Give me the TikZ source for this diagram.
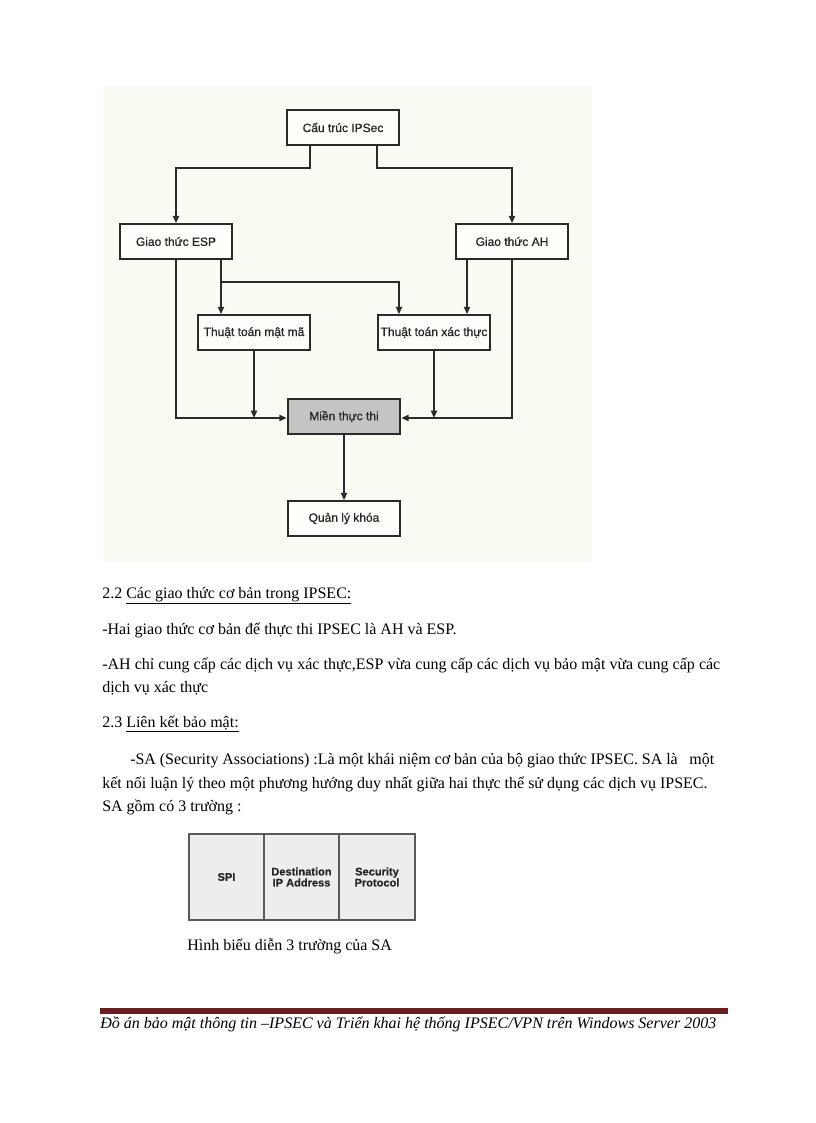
\documentclass[tikz,border=0pt]{standalone}
\usepackage{fontspec}
\setmainfont{Liberation Serif}
\newfontfamily\arialf[FakeBold=0.8]{Liberation Sans}
\newfontfamily\arialb[FakeBold=0.6]{Liberation Sans Bold}
\usetikzlibrary{arrows.meta}
\definecolor{linec}{HTML}{2B2B2B}
\definecolor{diagbg}{HTML}{FBFAF3}
\definecolor{boxbg}{HTML}{FDFDFA}
\definecolor{grayfill}{HTML}{C4C4C2}
\definecolor{footred}{HTML}{6B1E1E}
\definecolor{tablebg}{HTML}{EDEDEB}
\definecolor{tableline}{HTML}{5A5A5A}
\begin{document}
\begin{tikzpicture}[x=0.75pt,y=-0.75pt,
  box/.style={draw=linec, line width=1.5pt, rectangle, inner sep=0pt, fill=boxbg,
    minimum width=84.5pt, minimum height=26pt, text=black!85,
    font=\arialf\fontsize{9}{10}\selectfont},
  arr/.style={draw=linec, line width=1.3pt, -{Triangle[length=5.5pt,width=4.6pt]}},
  body/.style={anchor=base west, inner sep=0pt, font=\fontsize{12}{14}\selectfont},
  cell/.style={anchor=center, inner sep=0pt, align=center,
    font=\arialb\fontsize{8.3}{8.3}\selectfont, text=black!85}
]
\useasboundingbox (0,0) rectangle (816,1123);
\fill[white] (0,0) rectangle (816,1123);
% diagram background
\fill[diagbg] (103,86) rectangle (592,562);

% boxes
\node[box] (top) at (343,127.5) {Cấu trúc IPSec};
\node[box] (esp) at (176,241.5) {Giao thức ESP};
\node[box] (ah)  at (512,241.5) {Giao thức AH};
\node[box] (mm)  at (254,332.5) {Thuật toán mật mã};
\node[box] (xt)  at (434,332.5) {Thuật toán xác thực};
\node[box, fill=grayfill] (mien) at (344,416.5) {Miền thực thi};
\node[box] (ql)  at (344,518.5) {Quản lý khóa};

% junction levels
\coordinate (lvA) at (0,168);
\coordinate (lvB) at (0,282);
\coordinate (lvC) at (0,418);

% top to ESP / AH
\draw[arr] ([xshift=-33*0.75pt]top.south) -- ([xshift=-33*0.75pt]top.south |- lvA) -| (esp.north);
\draw[arr] ([xshift=34*0.75pt]top.south) -- ([xshift=34*0.75pt]top.south |- lvA) -| (ah.north);

% ESP down to algorithms
\draw[arr] ([xshift=45*0.75pt]esp.south) -- ([xshift=45*0.75pt]esp.south |- mm.north);
\coordinate (espj) at ([xshift=45*0.75pt]esp.south |- lvB);
\draw[arr] (espj) -| ([xshift=-35*0.75pt]xt.north);
% AH down to xt
\draw[arr] ([xshift=-45*0.75pt]ah.south) -- ([xshift=-45*0.75pt]ah.south |- xt.north);

% outer lines to Mien
\draw[arr] (esp.south) -- (esp.south |- lvC) -- (mien.west |- lvC);
\draw[arr] (ah.south) -- (ah.south |- lvC) -- (mien.east |- lvC);
% algorithms to the lines
\draw[arr] (mm.south) -- (mm.south |- lvC);
\draw[arr] (xt.south) -- (xt.south |- lvC);
% Mien to key management
\draw[arr] (mien.south) -- (ql.north);

% body text
\node[body] (t1) at (102,598) {2.2 \underline{Các giao thức cơ bản trong IPSEC:}};
\node[body] (t2) at (102,634) {-Hai giao thức cơ bản để thực thi IPSEC là AH và ESP.};
\node[body] (t3) at (102,669) {\makebox[463.5pt][s]{-AH chỉ cung cấp các dịch vụ xác thực,ESP vừa cung cấp các dịch vụ bảo mật vừa cung cấp các}};
\node[body] (t4) at (102,692) {dịch vụ xác thực};
\node[body] (t5) at (102,727) {2.3 \underline{Liên kết bảo mật:}};
\node[body] (t6) at (130,764) {\makebox[438pt][s]{-SA (Security Associations) :Là một khái niệm cơ bản của bộ giao thức IPSEC. SA là \ \ một}};
\node[body] (t7) at (102,788) {\makebox[454pt][s]{kết nối luận lý theo một phương hướng duy nhất giữa hai thực thể sử dụng các dịch vụ IPSEC.}};
\node[body] (t8) at (102,811) {SA gồm có 3 trường :};

% SA table
\draw[tableline, line width=1.3pt, fill=tablebg] (189,834) rectangle (415,920);
\draw[tableline, line width=1.1pt] (264,834) -- (264,920);
\draw[tableline, line width=1.1pt] (339,834) -- (339,920);
\node[cell] (c1) at (226.5,877) {SPI};
\node[cell] (c2) at (301.5,877) {Destination\\IP Address};
\node[cell] (c3) at (377,877) {Security\\Protocol};
\node[body] (cap) at (187,950) {Hình biểu diễn 3 trường của SA};

% footer
\fill[footred] (100,1008) rectangle (728,1014);
\node[body, font=\itshape\fontsize{12}{14}\selectfont] (foot) at (100,1028) {Đồ án bảo mật thông tin –IPSEC và Triển khai hệ thống IPSEC/VPN trên Windows Server 2003};
\end{tikzpicture}
\end{document}
